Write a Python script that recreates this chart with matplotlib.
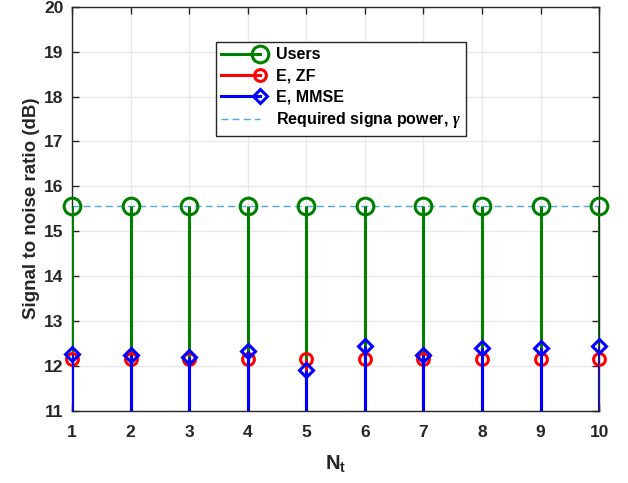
import matplotlib
matplotlib.use('Agg')
import matplotlib.pyplot as plt
import numpy as np

plt.rcParams['font.family'] = ['Liberation Sans', 'DejaVu Sans']
plt.rcParams['font.weight'] = 'bold'
plt.rcParams['mathtext.fontset'] = 'custom'
plt.rcParams['mathtext.rm'] = 'Liberation Sans'
plt.rcParams['mathtext.bf'] = 'Liberation Sans:bold'
plt.rcParams['mathtext.it'] = 'Liberation Serif:italic'

nt = [1, 2, 3, 4, 5, 6, 7, 8, 9, 10]
users = [15.57] * 10
e_zf = [12.15] * 10
e_mmse = [12.26, 12.25, 12.2, 12.33, 11.9, 12.44, 12.23, 12.39, 12.39, 12.44]
gamma = 15.57

fig = plt.figure(figsize=(6.28, 4.83), dpi=100)
ax = fig.add_axes([0.1146, 0.1497, 0.954 - 0.1146, 0.986 - 0.1497])

ax.axhline(gamma, color='#4fa7e0', ls=(0, (5, 3)), lw=1.0, zorder=2,
           label='Required signa power, $\\gamma$')

def draw_stem(vals, color, marker, ms, label, z):
    ax.vlines(nt, 0, vals, color=color, lw=2.2, zorder=z)
    ax.plot(nt, vals, ls='none', marker=marker, ms=ms, mew=2.2,
            mfc='none', mec=color, zorder=z + 0.5, clip_on=False)
    # proxy for legend
    ax.plot([], [], color=color, lw=2.2, marker=marker, ms=ms, mew=2.2,
            mfc='none', mec=color, label=label)

draw_stem(users, 'green', 'o', 12, 'Users', 3)
draw_stem(e_zf, 'red', 'o', 8.5, 'E, ZF', 4)
draw_stem(e_mmse, 'blue', 'D', 7, 'E, MMSE', 5)

ax.set_xlim(1, 10)
ax.set_ylim(11, 20)
ax.set_xticks(nt)
ax.set_yticks(np.arange(11, 21, 1))
ax.grid(True, color='#e8e8e8', lw=1.0)
ax.set_axisbelow(True)
ax.tick_params(direction='in', length=5, width=1, colors='#262626',
               labelsize=12.5, top=True, right=True)
ax.tick_params(axis='x', pad=10)
ax.tick_params(axis='y', pad=6)
for lab in ax.get_xticklabels() + ax.get_yticklabels():
    lab.set_fontweight('bold')
    lab.set_color('#262626')
for s in ax.spines.values():
    s.set_color('#262626')
    s.set_linewidth(1)

ax.set_xlabel('N$_\\mathbf{t}$', fontsize=14.5, fontweight='bold',
              color='#262626', labelpad=10)
ax.set_ylabel('Signal to noise ratio (dB)', fontsize=13.5, fontweight='bold',
              color='#262626', labelpad=3)

handles, labels = ax.get_legend_handles_labels()
order = [1, 2, 3, 0]
leg = ax.legend([handles[i] for i in order], [labels[i] for i in order],
                loc='upper left', bbox_to_anchor=(0.3435, 0.9137),
                bbox_transform=fig.transFigure, borderaxespad=0,
                fontsize=11.5, numpoints=1,
                handlelength=2.4, handletextpad=1.0, borderpad=0.35,
                labelspacing=0.38, fancybox=False, framealpha=1,
                edgecolor='#262626')
leg.get_frame().set_linewidth(1)
for line in leg.get_lines():
    line.set_markevery([2])
for t in leg.get_texts():
    t.set_fontweight('bold')

fig.savefig('out.png', dpi=100)
